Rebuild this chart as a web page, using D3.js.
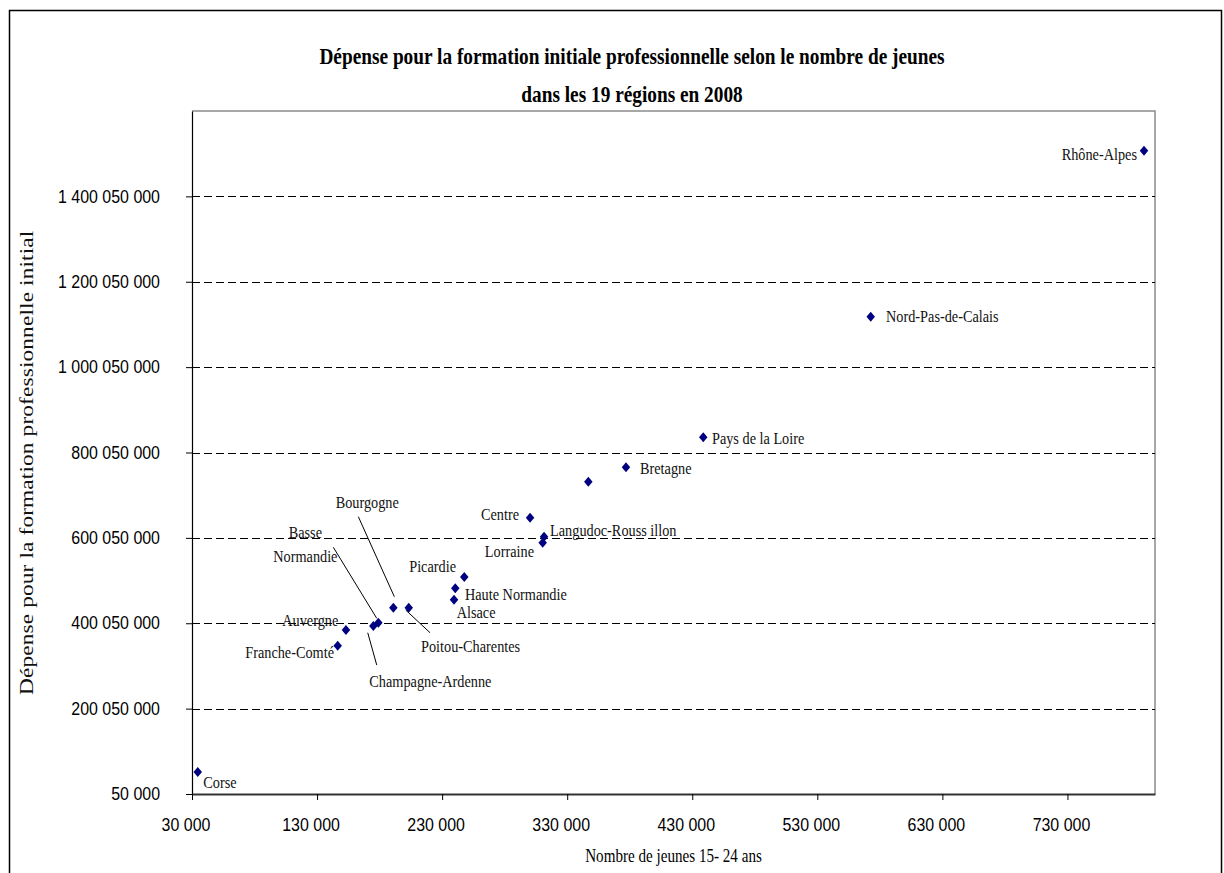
<!DOCTYPE html>
<html>
<head>
<meta charset="utf-8">
<script src="https://cdn.jsdelivr.net/npm/d3@7"></script>
<style>
  body { margin: 0; background: #fff; }
  svg { display: block; }
</style>
</head>
<body>
<svg id="chart" width="1224" height="873"></svg>
<script>
// Régions, effectifs de jeunes 15-24 ans et dépense de formation initiale professionnelle (2008)
const regions = ["Rhône-Alpes", "Nord-Pas-de-Calais", "Pays de la Loire", "Bretagne", "",
  "Centre", "Langudoc-Rouss illon", "Lorraine", "Picardie", "Haute Normandie", "Alsace",
  "Poitou-Charentes", "Bourgogne", "Basse Normandie", "Champagne-Ardenne", "Auvergne",
  "Franche-Comté", "Corse"];
const jeunes = [791200, 572700, 438800, 377000, 346900,
  300300, 311500, 310400, 247700, 240500, 239500,
  203300, 191000, 179000, 175000, 153100,
  146500, 34600];
const depense = [1507000000, 1118000000, 835600000, 765300000, 731600000,
  647200000, 602700000, 588700000, 508300000, 481800000, 455100000,
  436400000, 436400000, 401300000, 393500000, 384200000,
  347400000, 51500000];

const xTicks = [30000, 130000, 230000, 330000, 430000, 530000, 630000, 730000];
const yTicks = [50000, 200050000, 400050000, 600050000, 800050000, 1000050000, 1200050000, 1400050000];
const xDomain = [30000, 800000];
const yDomain = [50000, 1600050000];

const titleLines = ["Dépense pour la formation initiale professionnelle selon le nombre de jeunes",
  "dans les 19 régions en 2008"];
const xTitle = "Nombre de jeunes 15- 24 ans";
const yTitle = "Dépense pour la formation professionnelle initiale";

// Label placement around each marker (offsets in px, optional leader line)
const placement = {
  "Rhône-Alpes": { dx: -7, dy: 9.3, anchor: "end" },
  "Nord-Pas-de-Calais": { dx: 15.3, dy: 5.6, anchor: "start" },
  "Pays de la Loire": { dx: 8.7, dy: 6.7, anchor: "start" },
  "Bretagne": { dx: 14, dy: 6.7, anchor: "start" },
  "Centre": { dx: -11, dy: 2.3, anchor: "end" },
  "Langudoc-Rouss illon": { dx: 6, dy: -1, anchor: "start" },
  "Lorraine": { dx: -8.7, dy: 14.6, anchor: "end" },
  "Picardie": { dx: -8.3, dy: -5.3, anchor: "end" },
  "Haute Normandie": { dx: 9.7, dy: 11.7, anchor: "start" },
  "Alsace": { dx: 2.7, dy: 18, anchor: "start" },
  "Poitou-Charentes": { dx: 12.3, dy: 44.3, anchor: "start", leader: [-3, 2.3, 21.3, 25] },
  "Bourgogne": { dx: -26.1, dy: -99.4, anchor: "middle", leader: [-35, -91, 1, -11] },
  "Basse Normandie": { dx: -73, dy: -85, anchor: "middle", lines: ["Basse", "Normandie"], step: 24.6,
                       leader: [-45, -75.4, -1.6, -4.4] },
  "Champagne-Ardenne": { dx: -4, dy: 60.7, anchor: "start", leader: [-5.6, 6.7, 3.4, 39] },
  "Auvergne": { dx: -7.7, dy: -4.3, anchor: "end" },
  "Franche-Comté": { dx: -3.7, dy: 12, anchor: "end" },
  "Corse": { dx: 5.6, dy: 16.3, anchor: "start" }
};

const SERIF = "'Liberation Serif', 'Times New Roman', serif";
const SANS = "'Liberation Sans', Arial, sans-serif";
const SQ = 0.84;            // horizontal condensing of all lettering
const plot = { left: 192, right: 1155, top: 111, bottom: 794 };

const svg = d3.select("#chart");
const fr = d3.formatLocale({ decimal: ",", thousands: " ", grouping: [3], currency: ["", " €"] });
const fmt = fr.format(",d");

const x = d3.scaleLinear().domain(xDomain).range([plot.left, plot.right]);
const y = d3.scaleLinear().domain(yDomain).range([plot.bottom, plot.top]);

// Outer chart frame
svg.append("rect")
  .attr("x", 9.5).attr("y", 10.5).attr("width", 1212).attr("height", 900)
  .attr("fill", "#fff").attr("stroke", "#000").attr("stroke-width", 1.5);

// Title
svg.append("g").selectAll("text").data(titleLines).join("text")
  .attr("transform", (d, i) => `translate(632,${64 + i * 38}) scale(${SQ},1)`)
  .attr("text-anchor", "middle")
  .attr("font-family", SERIF).attr("font-weight", "bold").attr("font-size", 23)
  .attr("fill", "#000")
  .text(d => d);

// Plot area border (top/right)
svg.append("path")
  .attr("d", `M${plot.left},${plot.top}H${plot.right}V${plot.bottom}`)
  .attr("fill", "none").attr("stroke", "#8a8a8a").attr("stroke-width", 1.5);

// Horizontal dashed gridlines
svg.append("g").selectAll("line").data(yTicks.filter(v => v > yDomain[0])).join("line")
  .attr("x1", plot.left).attr("x2", plot.right)
  .attr("y1", d => Math.round(y(d)) + 0.5).attr("y2", d => Math.round(y(d)) + 0.5)
  .attr("stroke", "#000").attr("stroke-width", 1).attr("stroke-dasharray", "8,4");

// Y axis
const gy = svg.append("g").attr("transform", `translate(${plot.left},0)`)
  .call(d3.axisLeft(y).tickValues(yTicks).tickFormat(fmt).tickSize(6).tickSizeOuter(0));
gy.select(".domain").attr("stroke", "#000").attr("stroke-width", 1.2);
gy.selectAll(".tick line").attr("stroke", "#000");
gy.selectAll(".tick text")
  .attr("x", null).attr("dy", null).attr("y", 5.7)
  .attr("transform", `translate(-32,0) scale(${SQ},1)`)
  .attr("text-anchor", "end")
  .attr("font-family", SANS).attr("font-size", 19).attr("fill", "#000");

// X axis
const gx = svg.append("g").attr("transform", `translate(0,${plot.bottom})`)
  .call(d3.axisBottom(x).tickValues(xTicks).tickFormat(fmt).tickSize(6).tickSizeOuter(0));
gx.select(".domain").attr("stroke", "#333").attr("stroke-width", 2);
gx.selectAll(".tick line").attr("stroke", "#000");
gx.selectAll(".tick text")
  .attr("y", 37.5).attr("dy", null)
  .attr("transform", `translate(-6.5,0) scale(${SQ},1)`)
  .attr("text-anchor", "middle")
  .attr("font-family", SANS).attr("font-size", 19).attr("fill", "#000");

// Axis titles
svg.append("text")
  .attr("transform", `translate(${(plot.left + plot.right) / 2},862) scale(${SQ},1)`)
  .attr("text-anchor", "middle")
  .attr("font-family", SERIF).attr("font-size", 18).attr("fill", "#000")
  .text(xTitle);

svg.append("clipPath").attr("id", "ytitle-clip")
  .append("rect").attr("x", 0).attr("y", 231).attr("width", 80).attr("height", 560);
svg.append("g").attr("clip-path", "url(#ytitle-clip)")
  .append("text")
  .attr("transform", `translate(33.3,695) scale(${SQ},1) rotate(-90)`)
  .attr("text-anchor", "start")
  .attr("font-family", SERIF).attr("font-size", 23.3).attr("letter-spacing", 0.15)
  .attr("fill", "#111")
  .text(yTitle);

// Points
const pts = regions.map((r, i) => ({ name: r, px: x(jeunes[i]), py: y(depense[i]) }));

// Leader lines
svg.append("g").selectAll("line")
  .data(pts.filter(p => placement[p.name] && placement[p.name].leader)).join("line")
  .attr("x1", p => p.px + placement[p.name].leader[0])
  .attr("y1", p => p.py + placement[p.name].leader[1])
  .attr("x2", p => p.px + placement[p.name].leader[2])
  .attr("y2", p => p.py + placement[p.name].leader[3])
  .attr("stroke", "#000").attr("stroke-width", 1);

// Diamond markers
const diamond = d3.symbol().type(d3.symbolSquare).size(50);
svg.append("g").selectAll("path").data(pts).join("path")
  .attr("d", diamond)
  .attr("transform", p => `translate(${p.px},${p.py}) scale(0.85,1) rotate(45)`)
  .attr("fill", "#000080");

// Region labels
const labels = svg.append("g").selectAll("text")
  .data(pts.filter(p => placement[p.name])).join("text")
  .attr("transform", p => `translate(${p.px + placement[p.name].dx},${p.py + placement[p.name].dy}) scale(${SQ},1)`)
  .attr("text-anchor", p => placement[p.name].anchor)
  .attr("font-family", SERIF).attr("font-size", 17).attr("fill", "#111");
labels.each(function (p) {
  const cfg = placement[p.name];
  const t = d3.select(this);
  if (cfg.lines) {
    cfg.lines.forEach((ln, k) => t.append("tspan").attr("x", 0).attr("y", k * cfg.step).text(ln));
  } else {
    t.text(p.name);
  }
});
</script>
</body>
</html>
